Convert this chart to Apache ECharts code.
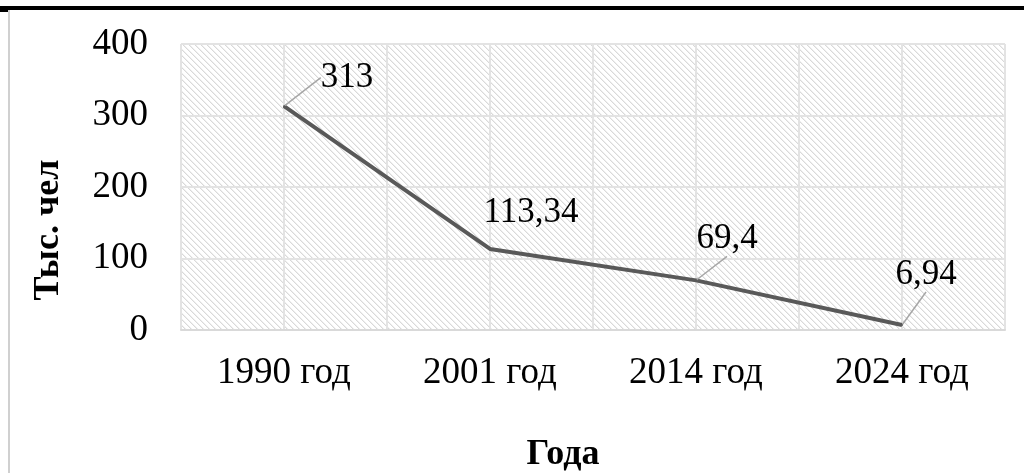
<!DOCTYPE html>
<html>
<head>
<meta charset="utf-8">
<script src="https://cdn.jsdelivr.net/npm/echarts@6/dist/echarts.min.js"></script>
<style>
  html, body { margin: 0; padding: 0; background: #fff; }
  #chart { width: 1024px; height: 473px; }
</style>
</head>
<body>
<div id="chart"></div>
<script>
// данные
var years = ["1990 год", "2001 год", "2014 год", "2024 год"];
var values = [313, 113.34, 69.4, 6.94];
var valueLabels = ["313", "113,34", "69,4", "6,94"];
var yTicks = [0, 100, 200, 300, 400];

// сдвиги подписей относительно точки
var labelShift = [[63, -5], [41, -13], [31, -18], [24, -27]];
var FONT = "'Liberation Serif', 'Times New Roman', serif";

// штриховка фона
function makeHatch() {
  var c = document.createElement("canvas");
  c.width = 6;
  c.height = 6;
  var ctx = c.getContext("2d");
  ctx.fillStyle = "#fff";
  ctx.fillRect(0, 0, 6, 6);
  for (var y = 0; y < 6; y++) {
    for (var x = 0; x < 6; x++) {
      var d = (x - y + 6) % 6;
      if (d === 0) {
        ctx.fillStyle = "#d9d9d9";
        ctx.fillRect(x, y, 1, 1);
      } else if (d === 1) {
        ctx.fillStyle = "#efefef";
        ctx.fillRect(x, y, 1, 1);
      }
    }
  }
  return c;
}

var chart = echarts.init(document.getElementById("chart"));
var seriesData = values.map(function (v, i) {
  return {
    value: v,
    labelLine: { show: i !== 1 },
  };
});

chart.setOption({
  animation: false,
  grid: {
    left: 181,
    right: 19,
    top: 44,
    bottom: 143,
    show: true,
    borderWidth: 0,
    backgroundColor: { image: makeHatch(), repeat: "repeat" },
  },
  xAxis: [
    {
      type: "category",
      data: years,
      boundaryGap: true,
      axisLine: { lineStyle: { color: "#d9d9d9", width: 2 } },
      axisTick: { show: false },
      axisLabel: { color: "#000", fontFamily: FONT, fontSize: 37, margin: 25 },
      splitLine: { show: false },
    },
    {
      // половинные линии сетки
      type: "category",
      data: ["", "", "", "", "", "", "", ""],
      boundaryGap: true,
      position: "bottom",
      axisLine: { show: false },
      axisTick: { show: false },
      axisLabel: { show: false },
      splitLine: { show: true, lineStyle: { color: "#e3e3e3", width: 2 } },
    },
  ],
  yAxis: {
    type: "value",
    min: yTicks[0],
    max: yTicks[yTicks.length - 1],
    interval: 100,
    axisLine: { show: false },
    axisTick: { show: false },
    axisLabel: { color: "#000", fontFamily: FONT, fontSize: 37, margin: 33 },
    splitLine: { lineStyle: { color: "#e3e3e3", width: 2 } },
  },
  series: [
    {
      type: "line",
      data: seriesData,
      symbol: "circle",
      symbolSize: 2,
      itemStyle: { color: "#595959" },
      lineStyle: { color: "#595959", width: 4 },
      label: {
        show: true,
        position: "top",
        color: "#000",
        fontFamily: FONT,
        fontSize: 35,
        formatter: function (p) {
          return valueLabels[p.dataIndex];
        },
      },
      labelLine: { show: true, lineStyle: { color: "#a6a6a6", width: 1.5 } },
      labelLayout: function (p) {
        var s = labelShift[p.dataIndex];
        return { dx: s[0], dy: s[1] };
      },
    },
  ],
  graphic: [
    { type: "rect", shape: { x: 0, y: 6, width: 1024, height: 4 }, style: { fill: "#000" } },
    { type: "rect", shape: { x: 0, y: 10, width: 9, height: 2 }, style: { fill: "#000" } },
    { type: "rect", shape: { x: 8, y: 10, width: 2, height: 463 }, style: { fill: "#d0d0d0" } },
    {
      type: "text",
      x: 49,
      y: 230,
      rotation: Math.PI / 2,
      style: {
        text: "Тыс. чел",
        fill: "#000",
        font: "bold 36px " + FONT,
        align: "center",
        verticalAlign: "middle",
      },
    },
    {
      type: "text",
      x: 563,
      y: 455,
      style: {
        text: "Года",
        fill: "#000",
        font: "bold 36px " + FONT,
        align: "center",
        verticalAlign: "middle",
      },
    },
  ],
});
</script>
</body>
</html>
